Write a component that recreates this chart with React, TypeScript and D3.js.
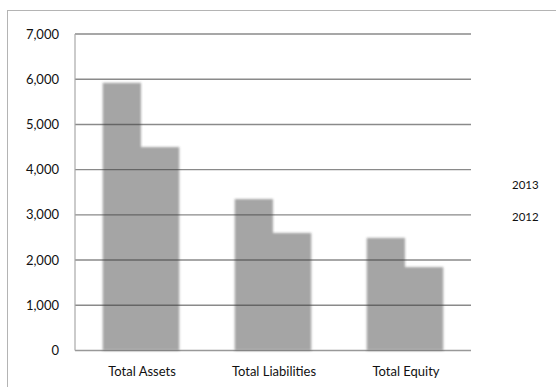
import React from "react";
import * as d3 from "d3";

const categories = ["Total Assets", "Total Liabilities", "Total Equity"];
const seriesNames = ["2013", "2012"];
const values2013 = [5920, 3350, 2490];
const values2012 = [4500, 2600, 1845];
const yTicks = [0, 1000, 2000, 3000, 4000, 5000, 6000, 7000];
const yTickLabels = ["0", "1,000", "2,000", "3,000", "4,000", "5,000", "6,000", "7,000"];

const W = 556;
const H = 387;
const left = 75;
const right = 471;
const top = 34;
const bottom = 350.5;
const font = "Lato, 'Open Sans', sans-serif";

export default function App() {
  const x = d3.scaleBand<string>().domain(categories).range([left, right]).paddingInner(0.42).paddingOuter(0.21);
  const xs = d3.scaleBand<string>().domain(seriesNames).range([0, x.bandwidth()]).padding(0);
  const y = d3.scaleLinear().domain([0, 7000]).range([bottom, top]);
  const series = [values2013, values2012];

  return (
    <svg width={W} height={H} style={{ position: "absolute", left: 0, top: 0, background: "#fff" }} fontFamily={font}>
      <defs>
        <filter id="soft" x="-10%" y="-10%" width="120%" height="120%">
          <feGaussianBlur stdDeviation="0.9" />
        </filter>
      </defs>
      <rect x={7.5} y={10.5} width={W} height={H} fill="#fff" stroke="#b4b4b4" strokeWidth={1} />
      {yTicks.map((t) => (
        <line key={t} x1={left} x2={right} y1={y(t)} y2={y(t)} stroke={t === 0 ? "#999" : "#8a8a8a"} strokeWidth={1.4} />
      ))}
      <line x1={left} x2={left} y1={top} y2={bottom} stroke="#a8a8a8" strokeWidth={1.2} />
      <g filter="url(#soft)">
        {categories.map((c, i) =>
          series.map((vals, s) => (
            <rect
              key={c + s}
              x={(x(c) as number) + (xs(seriesNames[s]) as number)}
              y={y(vals[i])}
              width={xs.bandwidth()}
              height={y(0) - y(vals[i])}
              fill="#3e3e3e"
              fillOpacity={0.46}
            />
          ))
        )}
      </g>
      {yTicks.map((t, i) => (
        <text key={t} x={59} y={y(t) + 4.5} textAnchor="end" fontSize={13} fill="#111">
          {yTickLabels[i]}
        </text>
      ))}
      {categories.map((c) => (
        <text key={c} x={(x(c) as number) + x.bandwidth() / 2 + 1} y={375.5} textAnchor="middle" fontSize={13} fill="#111">
          {c}
        </text>
      ))}
      {seriesNames.map((s, i) => (
        <text key={s} x={512} y={188.5 + i * 32} fontSize={11.5} fill="#111">
          {s}
        </text>
      ))}
    </svg>
  );
}
